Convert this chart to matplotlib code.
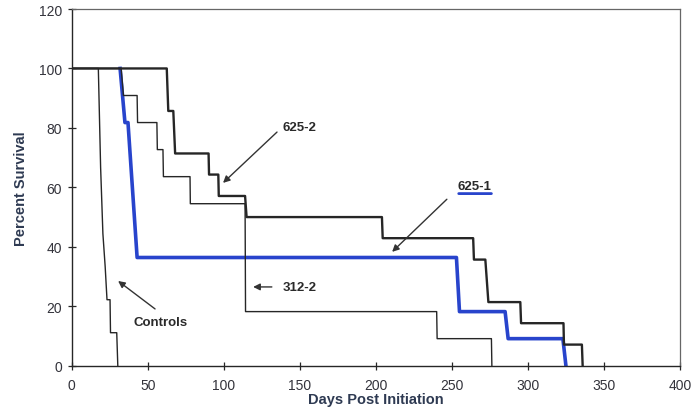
import matplotlib
matplotlib.use("Agg")
import matplotlib.pyplot as plt

# ---- data (step vertices: day, percent survival) ----
controls_days = [0, 17.5, 19.0, 20.5, 22.0, 23.2, 25.2, 25.5, 29.6, 30.3]
controls_surv = [100, 100, 66.7, 44.4, 33.3, 22.2, 22.2, 11.1, 11.1, 0]

s312_2_days = [0, 32.5, 34.0, 43.0, 43.3, 56.0, 56.3, 60.0, 60.3, 77.8, 78.0,
               114.0, 114.3, 240.0, 240.3, 276.0, 276.3]
s312_2_surv = [100, 100, 90.9, 90.9, 81.8, 81.8, 72.7, 72.7, 63.6, 63.6, 54.5,
               54.5, 18.2, 18.2, 9.1, 9.1, 0]

s625_2_days = [0, 62.5, 63.5, 66.8, 68.0, 90.0, 90.3, 96.4, 96.7, 114.0, 115.0,
               204.0, 204.5, 264.0, 264.5, 272.0, 274.0, 295.0, 295.5, 323.4,
               323.7, 335.5, 336.0]
s625_2_surv = [100, 100, 85.7, 85.7, 71.4, 71.4, 64.3, 64.3, 57.1, 57.1, 50,
               50, 42.9, 42.9, 35.7, 35.7, 21.4, 21.4, 14.3, 14.3, 7.1, 7.1, 0]

# blue highlight starts at its first drop (the 100% plateau is drawn in black)
s625_1_days = [31.8, 35.0, 37.0, 43.0, 253.0, 255.0, 285.0, 287.0, 323.0, 325.0]
s625_1_surv = [100, 81.8, 81.8, 36.4, 36.4, 18.2, 18.2, 9.1, 9.1, 0]

x_ticks = [0, 50, 100, 150, 200, 250, 300, 350, 400]
y_ticks = [0, 20, 40, 60, 80, 100, 120]

# ---- figure ----
plt.rcParams['font.family'] = ['Liberation Sans', 'DejaVu Sans']
fig = plt.figure(figsize=(6.93, 4.10), dpi=100)
ax = fig.add_axes([0.1035, 0.1056, 0.8777, 0.870])

ink = '#262626'
ax.plot(s625_1_days, s625_1_surv, color='#2844cc', lw=2.6, zorder=2)
ax.plot(controls_days, controls_surv, color=ink, lw=1.0, zorder=3)
ax.plot(s312_2_days, s312_2_surv, color=ink, lw=1.0, zorder=3)
ax.plot(s625_2_days, s625_2_surv, color=ink, lw=1.7, zorder=3)

ax.set_xlim(0, 400)
ax.set_ylim(0, 120)
ax.set_xticks(x_ticks)
ax.set_yticks(y_ticks)

lab_color = '#33333b'
ax.tick_params(axis='both', direction='inout', length=6, width=0.9,
               colors=ink, labelcolor=lab_color, labelsize=10)
ax.tick_params(axis='x', pad=6)
ax.tick_params(axis='y', pad=4)

for side in ['left', 'bottom']:
    ax.spines[side].set_color(ink)
    ax.spines[side].set_linewidth(1.0)
for side in ['top', 'right']:
    ax.spines[side].set_color('#666666')
    ax.spines[side].set_linewidth(0.9)
    ax.spines[side].set_linestyle((0, (3, 1)))

title_color = '#2e3a52'
ax.set_xlabel('Days Post Initiation', fontsize=10.5, fontweight='bold',
              color=title_color, labelpad=0)
ax.set_ylabel('Percent Survival', fontsize=10.5, fontweight='bold',
              color=title_color, labelpad=8)

arrow = dict(arrowstyle='-|>', lw=1.0, color='#333333', mutation_scale=10,
             shrinkA=0, shrinkB=0)
ann_kw = dict(fontsize=9.5, fontweight='bold', color='#2a2a2a',
              ha='center', va='center')

ax.annotate('', xy=(99.5, 61.5), xytext=(135, 78.6), arrowprops=arrow)
ax.text(150, 80.3, '625-2', **ann_kw)

ax.annotate('', xy=(210.7, 38.3), xytext=(246.7, 56.0), arrowprops=arrow)
ax.text(265, 60.4, '625-1', **ann_kw)
ax.annotate('', xy=(276, 57.9), xytext=(254.5, 57.9),
            arrowprops=dict(arrowstyle='-', lw=2.0, color='#2844cc',
                            shrinkA=0, shrinkB=0))

ax.annotate('', xy=(119.3, 26.5), xytext=(131.6, 26.5), arrowprops=arrow)
ax.text(150, 26.5, '312-2', **ann_kw)

ax.annotate('', xy=(30.5, 28.5), xytext=(54.8, 19.1), arrowprops=arrow)
ax.text(58.7, 14.7, 'Controls', **ann_kw)

fig.savefig('out.png', dpi=100)
